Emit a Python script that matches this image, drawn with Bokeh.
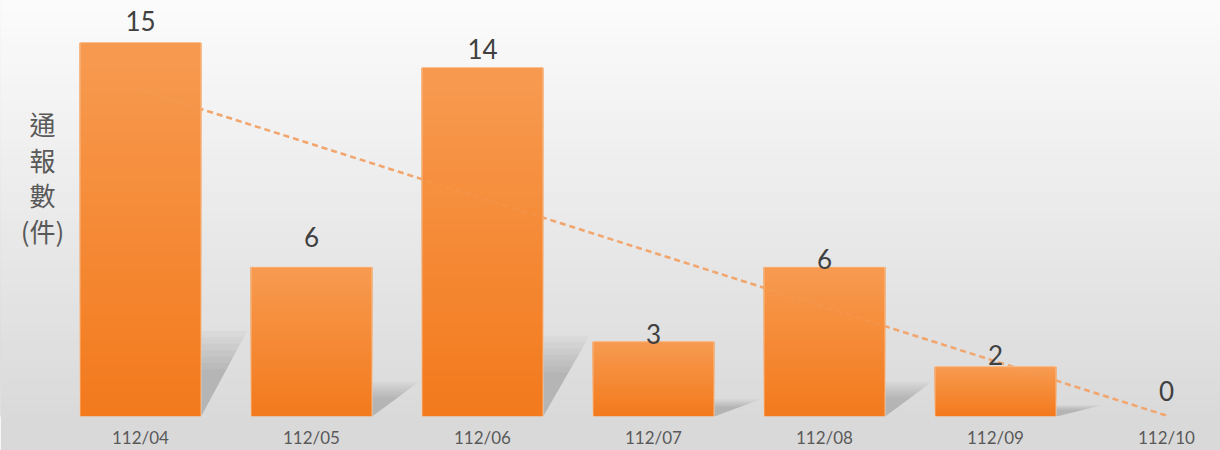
import numpy as np
from bokeh.plotting import figure
from bokeh.models import Range1d, FixedTicker, Label, ColumnDataSource
from bokeh.core.properties import value
from bokeh.embed import file_html
from bokeh.resources import INLINE

# ---------------- data ----------------
months = ["112/04", "112/05", "112/06", "112/07", "112/08", "112/09", "112/10"]
counts = [15, 6, 14, 3, 6, 2, 0]
y_title = "通\n報\n數\n(件)"

# ---------------- style / layout ----------------
label_gap_px = [24, 32, 20, 10, 10, 14, 28]   # value-label distance above bar top
W, H = 1220, 450
X_START, X_END = -0.8187, 6.3158
Y_START, Y_END = 0.0, 16.687
BAR_W = 0.708

idx = list(range(len(months)))

p = figure(width=W, height=H, output_backend="svg", toolbar_location=None,
           x_range=Range1d(X_START, X_END), y_range=Range1d(Y_START, Y_END),
           y_axis_location=None, min_border_left=0, min_border_right=0,
           min_border_top=0, min_border_bottom=34)
p.outline_line_color = None
p.grid.visible = False
p.background_fill_color = "#D9D9D9"
p.border_fill_color = "#D9D9D9"


def lerp(c1, c2, t):
    a = [int(c1[i:i + 2], 16) for i in (1, 3, 5)]
    b = [int(c2[i:i + 2], 16) for i in (1, 3, 5)]
    return "#%02x%02x%02x" % tuple(int(round(a[k] + (b[k] - a[k]) * t)) for k in range(3))


# background vertical gradient (overlapping layers, no seams)
NB = 48
bg_bottoms = np.linspace(Y_START - 1, Y_END, NB + 1)[:-1]
bg = ColumnDataSource(dict(
    bottom=bg_bottoms,
    color=[lerp("#D8D8D8", "#FBFBFB", k / (NB - 1)) for k in range(NB)]))
p.quad(left=X_START, right=X_END, bottom="bottom", top=Y_END + 1, color="color",
       source=bg, line_color=None)

# soft shadows behind the bars (skewed to the upper right)
for s in np.linspace(1.0, 0.55, 7):
    xs, ys = [], []
    for i, v in zip(idx, counts):
        if v <= 0:
            continue
        dx = 0.27 * s
        dy = v * 0.229 * s
        xl, xr = i - BAR_W / 2, i + BAR_W / 2
        xs.append([xl, xr, xr + dx, xl + dx])
        ys.append([0, 0, dy, dy])
    p.patches(xs, ys, fill_color="#707070", fill_alpha=0.055, line_color=None)

# trend line (least squares on the data)
slope, intercept = np.polyfit(idx, counts, 1)
tx = [idx[0], idx[-1]]
ty = [intercept + slope * t for t in tx]
p.line(tx, ty, line_color="#F2A66E", line_width=2.5, line_dash="6 4")

# bars with vertical gradient: stacked overlapping layers
NG = 30
bx, bb, bt, bc = [], [], [], []
for k in range(NG):
    for i, v in zip(idx, counts):
        if v <= 0:
            continue
        bx.append(i)
        bb.append(v * k / NG)
        bt.append(v)
        bc.append(lerp("#F37A1D", "#F79A50", k / (NG - 1)))
p.vbar(x=bx, bottom=bb, top=bt, width=BAR_W, fill_color=bc, line_color=None)
nz = [(i, v) for i, v in zip(idx, counts) if v > 0]
p.vbar(x=[i for i, _ in nz], top=[v for _, v in nz], width=BAR_W, fill_alpha=0,
       line_color="#FAD3B2", line_width=1, line_alpha=0.7)

# faint trend line over the bars
p.line(tx, ty, line_color="#F2A66E", line_width=2.5, line_dash="6 4", line_alpha=0.18)

# value labels
p.text(x=idx, y=counts, text=[str(c) for c in counts],
       y_offset=[-g + 2 for g in label_gap_px],
       text_align="center", text_baseline="middle",
       text_font=value("Lato"), text_font_size="26px", text_color="#404040")

# y title (stacked characters)
p.add_layout(Label(x=-0.573, y=9.6, text=y_title, text_align="center",
                   text_baseline="middle", text_font="Noto Sans CJK TC",
                   text_font_size="26px", text_color="#595959",
                   text_line_height=0.96))

# x axis
ax = p.xaxis[0]
ax.ticker = FixedTicker(ticks=idx)
ax.major_label_overrides = {i: m for i, m in zip(idx, months)}
ax.axis_line_color = None
ax.major_tick_line_color = None
ax.minor_tick_line_color = None
ax.major_tick_in = 0
ax.major_tick_out = 0
ax.major_label_standoff = 10
ax.major_label_text_font = "Lato"
ax.major_label_text_font_size = "17px"
ax.major_label_text_color = "#595959"

open("out.html", "w").write(file_html(p, INLINE))
